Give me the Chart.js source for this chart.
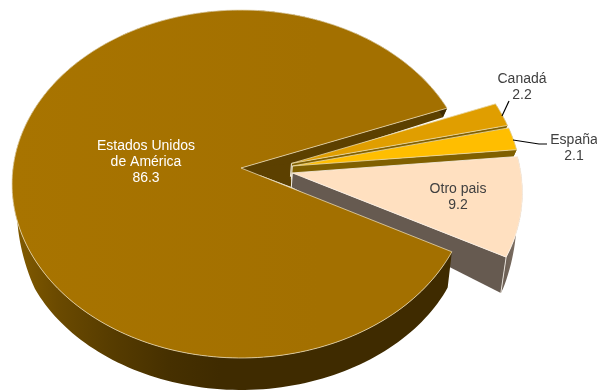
<!DOCTYPE html>
<html>
<head>
<meta charset="utf-8">
<title>Pie</title>
<script src="https://cdn.jsdelivr.net/npm/chart.js@4/dist/chart.umd.js"></script>
<style>
  html, body { margin: 0; padding: 0; background: #fff; overflow: hidden; }
  canvas { display: block; }
</style>
</head>
<body>
<canvas id="pieChart" width="597" height="391"></canvas>
<script>
const categories = ['Estados Unidos de América', 'Canadá', 'España', 'Otro pais'];
const shares = [86.3, 2.2, 2.1, 9.2];
const labelLines = [['Estados Unidos', 'de América'], ['Canadá'], ['España'], ['Otro pais']];

const topColors = ['#A37000', '#E09E00', '#FFBE00', '#FFE0C0'];
const cutColors = ['#5C4000', '#806000', '#806000', '#665A50'];

// projection of the flat pie onto the tilted view, fitted to the picture
const view = { cx: 241, cy: 168, rx: 228, ry: 172.5, persp: 0.092, shrink: 0.98 };
// wall height on screen as seen at a given distance towards the viewer
const depthStops = [[-1, 6], [-0.36, 9], [0.03, 14], [0.2, 25], [0.47, 36], [1, 32]];

const labelSpots = [
  { x: 146, y: 146, color: '#ffffff' },
  { x: 522, y: 79, color: '#404040' },
  { x: 574, y: 140, color: '#404040' },
  { x: 458, y: 189, color: '#404040' }
];
const leaderLines = [
  [[509, 101], [502, 116]],
  [[513, 140], [539, 144], [547, 144]]
];

function wallDepth(v) {
  for (let i = 1; i < depthStops.length; i++) {
    const [v0, d0] = depthStops[i - 1];
    const [v1, d1] = depthStops[i];
    if (v <= v1) return d0 + (d1 - d0) * (v - v0) / (v1 - v0);
  }
  return depthStops[depthStops.length - 1][1];
}

function topPoint(u, v) {
  const w = 1 - view.persp * v;
  return { x: view.cx + view.rx * u / w, y: view.cy + view.ry * v / w, v };
}

function lowPoint(p) {
  return { x: view.cx + (p.x - view.cx) * view.shrink, y: p.y + wallDepth(p.v) };
}

// screen outline of one slice, taken from the arc element the library laid out
function sliceShape(arc, origin) {
  const e = arc.options.offset / arc.outerRadius;
  const mid = (arc.startAngle + arc.endAngle) / 2;
  const cu = origin.u + e * Math.cos(mid);
  const cv = origin.v + e * Math.sin(mid);
  const steps = Math.max(6, Math.ceil((arc.endAngle - arc.startAngle) * 40));
  const rim = [];
  for (let i = 0; i <= steps; i++) {
    const a = arc.startAngle + (arc.endAngle - arc.startAngle) * i / steps;
    rim.push(topPoint(cu + Math.cos(a), cv + Math.sin(a)));
  }
  return { apex: topPoint(cu, cv), rim };
}

function fillPoly(ctx, pts, fill) {
  ctx.beginPath();
  pts.forEach((p, i) => i ? ctx.lineTo(p.x, p.y) : ctx.moveTo(p.x, p.y));
  ctx.closePath();
  ctx.fillStyle = fill;
  ctx.fill();
}

function drawCut(ctx, apex, corner, fill) {
  fillPoly(ctx, [apex, corner, lowPoint(corner), lowPoint(apex)], fill);
}

function drawRimWall(ctx, rim, fill) {
  const low = rim.map(lowPoint).reverse();
  fillPoly(ctx, rim.concat(low), fill);
}

function drawTop(ctx, shape, fill, edge) {
  const outline = [shape.apex].concat(shape.rim);
  fillPoly(ctx, outline, fill);
  ctx.strokeStyle = edge;
  ctx.lineWidth = 0.8;
  ctx.lineJoin = 'round';
  ctx.stroke();
}

function drawEdge(ctx, p, color) {
  const low = lowPoint(p);
  ctx.beginPath();
  ctx.moveTo(p.x, p.y);
  ctx.lineTo(low.x, low.y);
  ctx.strokeStyle = color;
  ctx.lineWidth = 1;
  ctx.stroke();
}

const pie3d = {
  id: 'pie3d',
  beforeDatasetDraw(chart) {
    const ctx = chart.ctx;
    const arcs = chart.getDatasetMeta(0).data;
    const first = arcs[0];
    const firstMid = (first.startAngle + first.endAngle) / 2;
    const firstE = first.options.offset / first.outerRadius;
    // the big slice's point sits at the view centre
    const origin = { u: -firstE * Math.cos(firstMid), v: -firstE * Math.sin(firstMid) };
    const shapes = arcs.map(a => sliceShape(a, origin));

    ctx.save();
    const usa = shapes[0];
    drawCut(ctx, usa.apex, usa.rim[usa.rim.length - 1], cutColors[0]);
    // inside of the gap, seen behind the points of the pulled-out slices
    fillPoly(ctx, [usa.apex, shapes[1].apex, lowPoint(shapes[3].apex)], cutColors[0]);

    for (let i = 1; i < arcs.length; i++) {
      const s = shapes[i];
      const corner = s.rim[s.rim.length - 1];
      if (i === 3) {
        const g = ctx.createLinearGradient(corner.x, 0, corner.x + 20, 0);
        g.addColorStop(0, '#6E6156');
        g.addColorStop(1, '#8A7B6E');
        drawRimWall(ctx, s.rim, g);
      } else {
        drawRimWall(ctx, s.rim, cutColors[i]);
      }
      drawCut(ctx, s.apex, corner, cutColors[i]);
      if (i === 3) drawEdge(ctx, corner, '#E4DED6');
      drawEdge(ctx, s.apex, '#F2ECE0');
      drawTop(ctx, s, topColors[i], i === 3 ? '#FBF3E8' : '#E8D8A8');
    }

    const wall = ctx.createLinearGradient(16, 0, 220, 0);
    wall.addColorStop(0, '#825B00');
    wall.addColorStop(0.2, '#6B4A00');
    wall.addColorStop(0.45, '#583D00');
    wall.addColorStop(0.75, '#463000');
    wall.addColorStop(1, '#3F2B00');
    drawRimWall(ctx, usa.rim, wall);

    const face = ctx.createLinearGradient(12, 0, 320, 0);
    face.addColorStop(0, '#A87400');
    face.addColorStop(1, topColors[0]);
    drawTop(ctx, usa, face, '#E6D6AE');
    ctx.restore();
    return false;
  },
  afterDraw(chart) {
    const ctx = chart.ctx;
    ctx.save();
    ctx.strokeStyle = '#000';
    ctx.lineWidth = 1.2;
    leaderLines.forEach(line => {
      ctx.beginPath();
      line.forEach((p, i) => i ? ctx.lineTo(p[0], p[1]) : ctx.moveTo(p[0], p[1]));
      ctx.stroke();
    });
    ctx.font = '14px "Liberation Sans", Arial, sans-serif';
    ctx.textAlign = 'center';
    ctx.textBaseline = 'middle';
    labelLines.forEach((lines, i) => {
      const spot = labelSpots[i];
      ctx.fillStyle = spot.color;
      lines.concat(String(shares[i])).forEach((t, j) => {
        ctx.fillText(t, spot.x, spot.y + j * 16.3);
      });
    });
    ctx.restore();
  }
};

new Chart(document.getElementById('pieChart'), {
  type: 'pie',
  data: {
    labels: categories,
    datasets: [{
      data: shares,
      backgroundColor: topColors,
      borderWidth: 0,
      offset: 21
    }]
  },
  options: {
    responsive: false,
    animation: false,
    rotation: 117.7,
    events: [],
    layout: { padding: 0 },
    plugins: { legend: { display: false }, tooltip: { enabled: false } }
  },
  plugins: [pie3d]
});
</script>
</body>
</html>
